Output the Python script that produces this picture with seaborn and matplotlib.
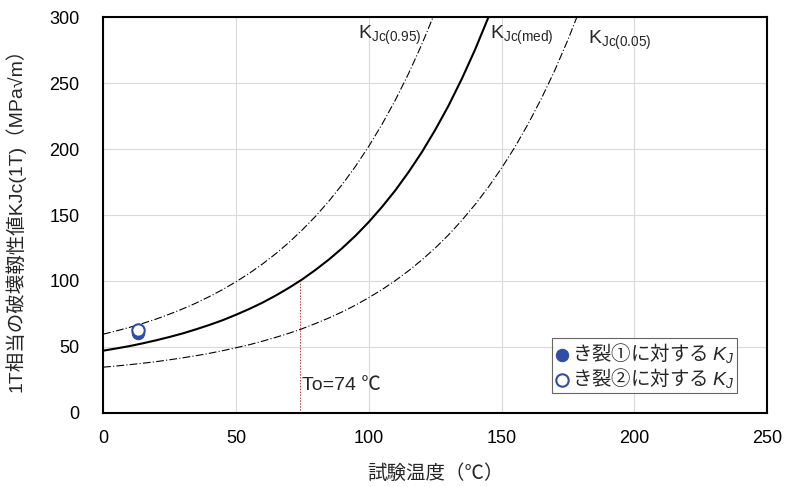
import pandas as pd
import matplotlib
matplotlib.use("Agg")
import matplotlib.pyplot as plt
import seaborn as sns
from matplotlib.ticker import MultipleLocator

# master curve values (temperature in C, K in MPa*sqrt(m))
temp_med = list(range(0, 150, 5))
k_med = [47.2, 48.9, 50.7, 52.8, 55.1, 57.6, 60.3, 63.4, 66.7, 70.3, 74.4, 78.8, 83.6, 89.0, 94.9,
         101.3, 108.5, 116.3, 124.9, 134.3, 144.7, 156.2, 168.7, 182.6, 197.7, 214.5, 232.8, 253.1,
         275.3, 299.7]

temp_95 = list(range(0, 130, 5))
k_95 = [59.7, 62.2, 64.9, 67.9, 71.2, 74.9, 78.9, 83.3, 88.2, 93.5, 99.4, 105.8, 112.9, 120.7, 129.3,
        138.8, 149.1, 160.6, 173.1, 186.9, 202.1, 218.8, 237.1, 257.3, 279.5, 303.9]

temp_05 = list(range(0, 185, 5))
k_05 = [34.7, 35.6, 36.6, 37.7, 38.9, 40.3, 41.8, 43.4, 45.2, 47.2, 49.4, 51.7, 54.4, 57.3, 60.4,
        63.9, 67.8, 72.0, 76.6, 81.7, 87.4, 93.5, 100.3, 107.8, 116.0, 125.0, 134.9, 145.9, 157.9,
        171.1, 185.6, 201.5, 219.1, 238.4, 259.6, 283.0, 308.6]

# measured K_J points
crack_labels = ["き裂①に対する $K_J$", "き裂②に対する $K_J$"]
crack_temp = [13, 13]
crack_k = [60.5, 63]

t0 = 74
k_t0 = 100

sns.set_style("white")
plt.rcParams["font.family"] = ["Liberation Sans", "Noto Sans CJK JP"]
plt.rcParams["mathtext.fontset"] = "custom"
plt.rcParams["mathtext.rm"] = "Liberation Sans"
plt.rcParams["mathtext.it"] = "Liberation Sans:italic"

fig = plt.figure(figsize=(7.87, 4.87), dpi=100)
ax = fig.add_axes([0.131, 0.152, 0.844, 0.813])

ax.grid(True, color="#d9d9d9", linewidth=0.8)
ax.set_axisbelow(True)

dashdot = (0, (7, 2, 1, 2))
sns.lineplot(x=temp_95, y=k_95, ax=ax, color="black", linewidth=0.8, linestyle=dashdot)
sns.lineplot(x=temp_med, y=k_med, ax=ax, color="black", linewidth=1.5)
sns.lineplot(x=temp_05, y=k_05, ax=ax, color="black", linewidth=0.8, linestyle=dashdot)

# T0 reference line
ax.plot([t0, t0], [0, k_t0], color="#c0392b", linewidth=0.7, linestyle=(0, (1.5, 1.5)))
ax.text(t0 + 1, 21, "To=74 ℃", fontsize=14, va="center", ha="left")

pts = pd.DataFrame({"T": crack_temp, "K": crack_k, "label": crack_labels})
sns.scatterplot(data=pts.iloc[[0]], x="T", y="K", ax=ax, color="#2f4ea3", edgecolor="#2f4ea3",
                s=80, zorder=5, label=crack_labels[0])
sns.scatterplot(data=pts.iloc[[1]], x="T", y="K", ax=ax, facecolor="white", edgecolor="#2f4ea3",
                linewidth=1.5, s=80, zorder=6, label=crack_labels[1])

# curve labels
ax.text(96, 286, r"K$_{\mathrm{Jc(0.95)}}$", fontsize=14, va="center", ha="left")
ax.text(145.5, 286, r"K$_{\mathrm{Jc(med)}}$", fontsize=14, va="center", ha="left")
ax.text(182.5, 282, r"K$_{\mathrm{Jc(0.05)}}$", fontsize=14, va="center", ha="left")

ax.set_xlim(0, 250)
ax.set_ylim(0, 300)
ax.xaxis.set_major_locator(MultipleLocator(50))
ax.xaxis.set_minor_locator(MultipleLocator(10))
ax.yaxis.set_major_locator(MultipleLocator(50))
ax.yaxis.set_minor_locator(MultipleLocator(10))
ax.tick_params(which="both", direction="in", length=5, width=1, colors="black", labelsize=13)
ax.tick_params(axis="x", pad=12)
ax.tick_params(axis="y", pad=17)
for s in ax.spines.values():
    s.set_color("black")
    s.set_linewidth(1.5)

ax.set_xlabel("試験温度（℃）", fontsize=14, labelpad=13)
ax.set_ylabel("1T相当の破壊靱性値KJc(1T)（MPa√m）", fontsize=14, labelpad=17)

# mathtext strings only use the first family, so put the CJK font first here
leg = ax.legend(loc="lower right", bbox_to_anchor=(0.955, 0.05),
                prop={"family": ["Noto Sans CJK JP", "DejaVu Sans"], "size": 14}, frameon=True,
                fancybox=False, edgecolor="#404040", handletextpad=0.1, borderpad=0.15,
                handlelength=0.8, labelspacing=0.05, borderaxespad=0)
leg.get_frame().set_linewidth(0.8)

fig.savefig("out.png", dpi=100)
